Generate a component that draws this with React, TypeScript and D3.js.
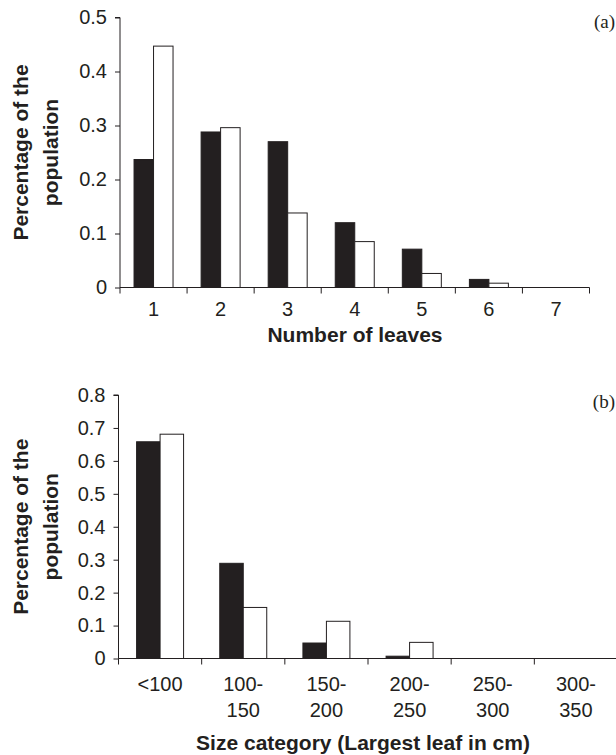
import React, { useEffect, useRef } from "react";
import * as d3 from "d3";

// panel (a): number of leaves
const leafCategories = ["1", "2", "3", "4", "5", "6", "7"];
const leafDark = [0.237, 0.288, 0.27, 0.12, 0.071, 0.015, 0];
const leafWhite = [0.447, 0.296, 0.138, 0.085, 0.026, 0.008, 0];
const leafYTicks = [0, 0.1, 0.2, 0.3, 0.4, 0.5];

// panel (b): size of largest leaf
const sizeCategories = ["<100", "100-150", "150-200", "200-250", "250-300", "300-350"];
const sizeTickLabels = [["<100"], ["100-", "150"], ["150-", "200"], ["200-", "250"], ["250-", "300"], ["300-", "350"]];
const sizeDark = [0.658, 0.289, 0.047, 0.007, 0, 0];
const sizeWhite = [0.681, 0.155, 0.113, 0.049, 0, 0];
const sizeYTicks = [0, 0.1, 0.2, 0.3, 0.4, 0.5, 0.6, 0.7, 0.8];

const series = ["dark", "white"];
const INK = "#231f20";
const SANS = "'Liberation Sans', Arial, sans-serif";

const drawPanel = (svg, o) => {
  const g = svg.append("g");

  const x0 = d3.scaleBand().domain(o.categories).range([o.left, o.right]);
  const x1 = d3
    .scaleBand()
    .domain(series)
    .range([0, x0.bandwidth()])
    .paddingInner(0)
    .paddingOuter(o.groupPad);
  const y = d3.scaleLinear().domain([0, o.yMax]).range([o.bottom, o.top]);

  // bars
  o.categories.forEach((c, i) => {
    const vals = [o.dark[i], o.white[i]];
    vals.forEach((v, j) => {
      if (v <= 0) return;
      g.append("rect")
        .attr("x", x0(c) + x1(series[j]))
        .attr("y", y(v))
        .attr("width", x1.bandwidth())
        .attr("height", y(0) - y(v))
        .attr("fill", j === 0 ? INK : "#fff")
        .attr("stroke", INK)
        .attr("stroke-width", 1);
    });
  });

  // y axis
  const yAxis = d3
    .axisLeft(y)
    .tickValues(o.yTicks)
    .tickSize(5)
    .tickPadding(8)
    .tickFormat((d) => (d === 0 ? "0" : d.toFixed(1)));
  const ya = g.append("g").attr("transform", `translate(${o.left},0)`).call(yAxis);
  ya.select(".domain").attr("stroke", INK).attr("d", `M-5,${o.top}H0V${o.bottom}`);
  ya.selectAll(".tick line").attr("stroke", INK);
  ya.selectAll(".tick text")
    .attr("fill", INK)
    .style("font-family", SANS)
    .style("font-size", "20px");

  // x axis line and ticks at band edges
  g.append("line")
    .attr("x1", o.left)
    .attr("x2", o.right)
    .attr("y1", o.bottom)
    .attr("y2", o.bottom)
    .attr("stroke", INK);
  const edges = o.categories.map((c) => x0(c)).concat([o.right]);
  g.selectAll(null)
    .data(edges)
    .enter()
    .append("line")
    .attr("x1", (d) => d)
    .attr("x2", (d) => d)
    .attr("y1", o.bottom)
    .attr("y2", o.bottom + 6)
    .attr("stroke", INK);

  // x tick labels
  o.categories.forEach((c, i) => {
    const t = g
      .append("text")
      .attr("text-anchor", "middle")
      .attr("fill", INK)
      .style("font-family", SANS)
      .style("font-size", "20px");
    o.tickLabels[i].forEach((line, k) => {
      t.append("tspan")
        .attr("x", x0(c) + x0.bandwidth() / 2)
        .attr("y", o.bottom + o.labelOffset + k * 26)
        .text(line);
    });
  });

  // x axis title
  g.append("text")
    .attr("text-anchor", "middle")
    .attr("x", o.titleX)
    .attr("y", o.titleY)
    .attr("fill", INK)
    .style("font-family", SANS)
    .style("font-size", "21px")
    .style("font-weight", "bold")
    .text(o.xTitle);

  // y axis title (two lines)
  const yt = g
    .append("text")
    .attr("transform", "rotate(-90)")
    .attr("text-anchor", "middle")
    .attr("fill", INK)
    .style("font-family", SANS)
    .style("font-size", "21px")
    .style("font-weight", "bold");
  yt.append("tspan").attr("x", -(o.top + o.bottom) / 2).attr("y", o.yTitleX).text("Percentage of the");
  yt.append("tspan").attr("x", -(o.top + o.bottom) / 2).attr("y", o.yTitleX + 30).text("population");

  // panel letter
  g.append("text")
    .attr("text-anchor", "end")
    .attr("x", 615)
    .attr("y", o.letterY)
    .attr("fill", INK)
    .style("font-family", "'Liberation Serif', 'Times New Roman', serif")
    .style("font-size", "19px")
    .text(o.letter);
};

const App = () => {
  const ref = useRef(null);

  useEffect(() => {
    const svg = d3.select(ref.current);
    svg.selectAll("*").remove();

    drawPanel(svg, {
      categories: leafCategories,
      tickLabels: leafCategories.map((c) => [c]),
      dark: leafDark,
      white: leafWhite,
      yTicks: leafYTicks,
      yMax: 0.5,
      left: 120,
      right: 589.5,
      top: 17.5,
      bottom: 287.5,
      groupPad: 0.72,
      labelOffset: 28,
      xTitle: "Number of leaves",
      titleX: 355,
      titleY: 342,
      yTitleX: 28,
      letter: "(a)",
      letterY: 28,
    });

    drawPanel(svg, {
      categories: sizeCategories,
      tickLabels: sizeTickLabels,
      dark: sizeDark,
      white: sizeWhite,
      yTicks: sizeYTicks,
      yMax: 0.8,
      left: 118.5,
      right: 617.5,
      top: 395,
      bottom: 658.5,
      groupPad: 0.77,
      labelOffset: 32,
      xTitle: "Size category (Largest leaf in cm)",
      titleX: 363,
      titleY: 750,
      yTitleX: 28,
      letter: "(b)",
      letterY: 408,
    });
  }, []);

  return (
    <svg
      ref={ref}
      width="616"
      height="755"
      style={{ position: "absolute", left: 0, top: 0, background: "#fff" }}
    ></svg>
  );
};

export default App;
